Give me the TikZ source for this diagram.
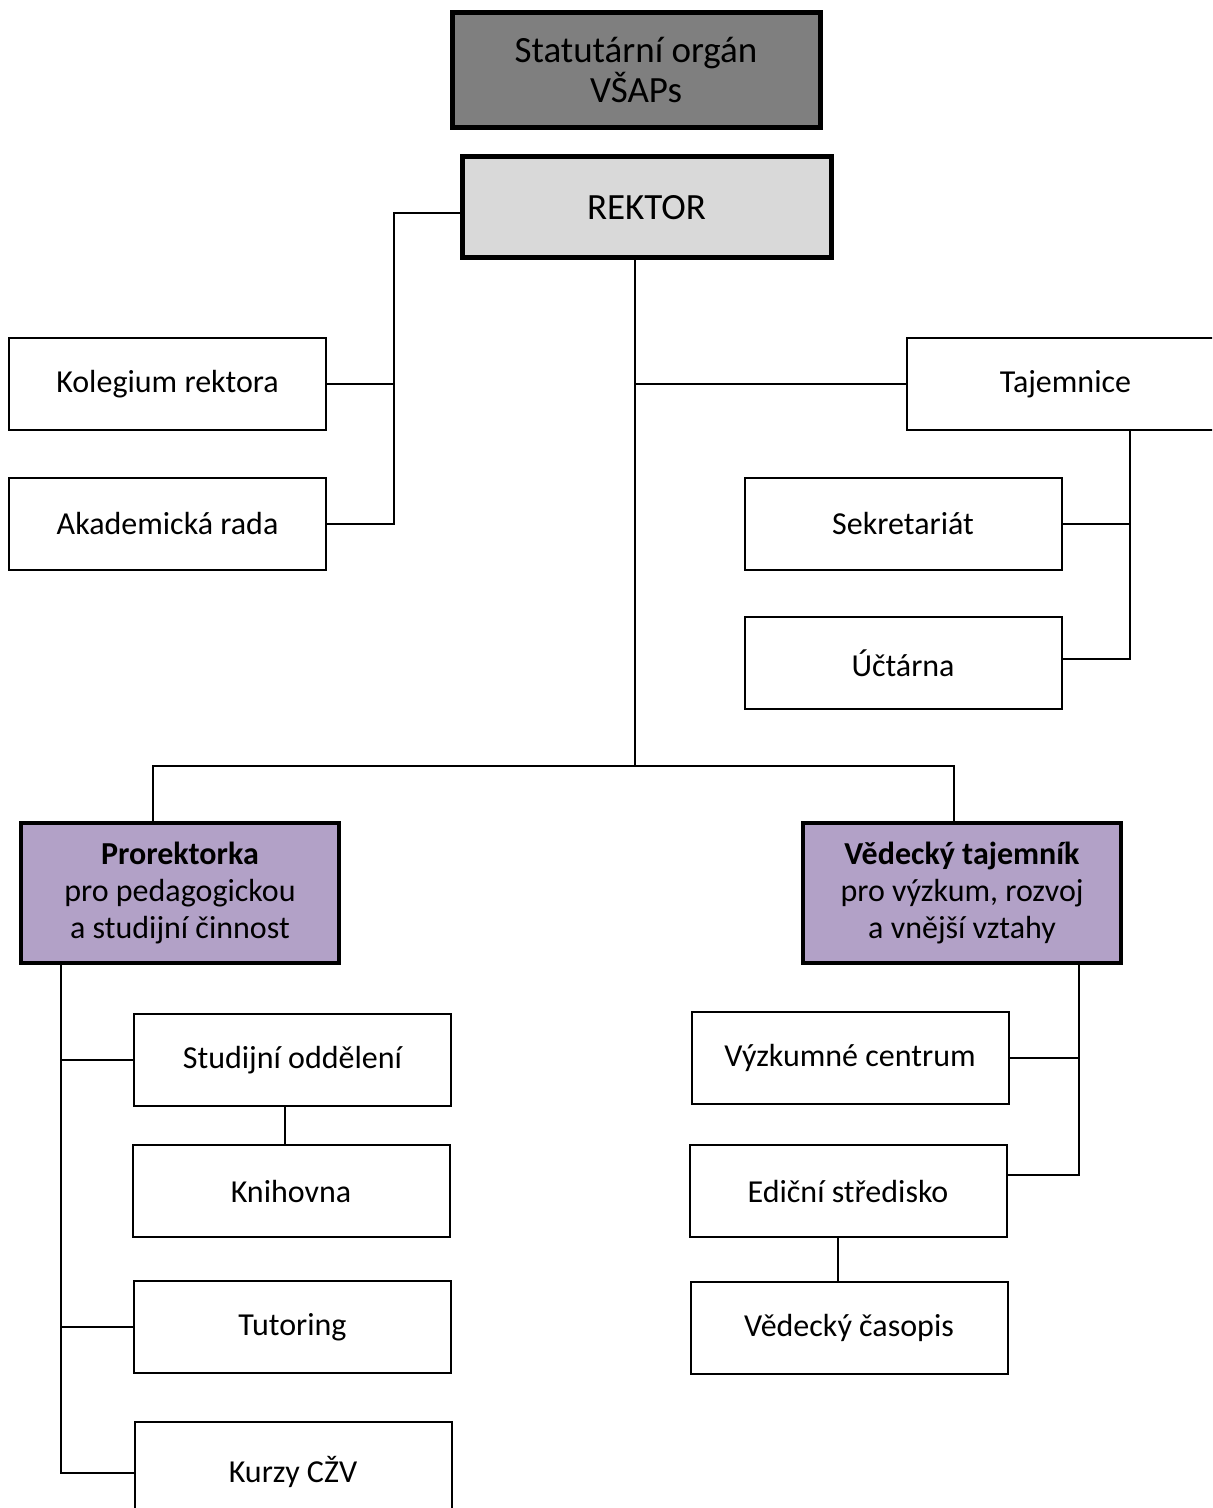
\documentclass[tikz,border=0pt]{standalone}
\usepackage{fontspec}
\setmainfont{Carlito}
\definecolor{darkbox}{HTML}{7F7F7F}
\definecolor{lightbox}{HTML}{D9D9D9}
\definecolor{purplebox}{HTML}{B2A1C7}
\begin{document}
\begin{tikzpicture}[x=0.5pt,y=-0.5pt,
  box/.style={draw=black, fill=white, line width=1pt, rectangle,
    minimum width=158.5pt, minimum height=46pt, inner sep=0pt,
    align=center, font=\fontsize{16}{18.5}\selectfont},
  topbox/.style={box, line width=2.5pt, font=\fontsize{18.5}{20}\selectfont},
  headbox/.style={box, line width=2.3pt, fill=purplebox,
    minimum width=159pt, minimum height=70pt},
  conn/.style={draw=black, line width=1pt}
]
\useasboundingbox (0,0) rectangle (1212,1508);
\clip (0,0) rectangle (1212,1508);
\fill[white] (0,0) rectangle (1212,1508);

% top level
\node[topbox, fill=darkbox, minimum width=184pt, minimum height=57.5pt] (stat) at (636,70.5) {Statutární orgán\\VŠAPs};
\node[topbox, fill=lightbox, minimum width=184.5pt, minimum height=50.5pt] (rek) at (646.5,207.5) {REKTOR};

% left staff
\node[box] (kol) at (167.5,384) {Kolegium rektora};
\node[box] (aka) at (167.5,524) {Akademická rada};

% right staff
\node[box] (taj) at (1065.5,384) {Tajemnice};
\node[box] (sek) at (903,524) {Sekretariát};
\node[box] (uct) at (903,663) {Účtárna};

% heads
\node[headbox] (pro) at (180,893) {\textbf{Prorektorka}\\pro pedagogickou\\a studijní činnost};
\node[headbox] (ved) at (962,893) {\textbf{Vědecký tajemník}\\pro výzkum, rozvoj\\a vnější vztahy};

% left units
\node[box] (stu) at (292.5,1060) {Studijní oddělení};
\node[box] (kni) at (291,1191) {Knihovna};
\node[box] (tut) at (292.5,1327) {Tutoring};
\node[box, minimum height=50pt] (kur) at (293,1472) {Kurzy CŽV};

% right units
\node[box] (vyz) at (850,1058) {Výzkumné centrum};
\node[box] (edi) at (848,1191) {Ediční středisko};
\node[box] (cas) at (849,1327.5) {Vědecký časopis};

% connector coordinates
\coordinate (lt) at (394,213);
\coordinate (mt) at (635,766);
\coordinate (pl) at (153,766);
\coordinate (pr) at (954,766);
\coordinate (tt) at (1130,659);
\coordinate (pt) at (61,1473);
\coordinate (sk) at (285,1125);
\coordinate (vt) at (1079,1175);
\coordinate (ec) at (838,1260);

% rektor to left staff
\draw[conn] (rek.west |- lt) -- (lt) -- (lt |- aka.east) -- (aka.east);
\draw[conn] (kol.east) -- (kol.east -| lt);

% main trunk
\draw[conn] (mt |- rek.south) -- (mt);
\draw[conn] (mt |- taj.west) -- (taj.west);
\draw[conn] (pl |- pro.north) -- (pl) -- (pr) -- (pr |- ved.north);

% tajemnice trunk
\draw[conn] (tt |- taj.south) -- (tt) -- (tt -| uct.east);
\draw[conn] (sek.east) -- (sek.east -| tt);

% prorektorka trunk
\draw[conn] (pt |- pro.south) -- (pt) -- (pt -| kur.west);
\draw[conn] (pt |- stu.west) -- (stu.west);
\draw[conn] (pt |- tut.west) -- (tut.west);
\draw[conn] (sk |- stu.south) -- (sk |- kni.north);

% vedecky trunk
\draw[conn] (vt |- ved.south) -- (vt) -- (vt -| edi.east);
\draw[conn] (vyz.east) -- (vyz.east -| vt);
\draw[conn] (ec |- edi.south) -- (ec |- cas.north);
\end{tikzpicture}
\end{document}
